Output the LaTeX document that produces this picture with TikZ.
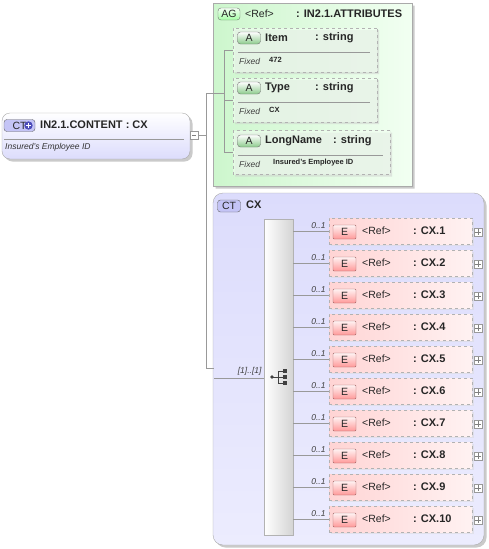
\documentclass[tikz,border=0pt]{standalone}
\usepackage{fontspec}
\setmainfont{Liberation Sans}
\usetikzlibrary{shapes.misc, shadows}

\definecolor{lav}{RGB}{220,220,252}
\definecolor{lavlight}{RGB}{236,236,254}
\definecolor{lavbadge}{RGB}{196,196,246}
\definecolor{grnbg}{RGB}{205,246,205}
\definecolor{grnlight}{RGB}{242,255,242}
\definecolor{pinkbg}{RGB}{255,212,212}
\definecolor{pinklight}{RGB}{255,242,242}
\definecolor{boxline}{RGB}{170,170,170}

\begin{document}
\begin{tikzpicture}[x=1pt, y=-1pt,
  conn/.style={draw=black!40, line width=.6pt},
  shade box/.style={drop shadow={shadow xshift=2.5pt, shadow yshift=-2.5pt, fill=black!35, opacity=.6}},
  ct main/.style={draw=boxline, rounded corners=8pt, top color=white, bottom color=lav, shade box, minimum width=188pt, minimum height=46pt},
  ct group/.style={draw=boxline, rounded corners=10pt, top color=lav, bottom color=lavlight, shade box, minimum width=271pt, minimum height=352pt},
  ag group/.style={chamfered rectangle, chamfered rectangle corners={north west,south west}, chamfered rectangle xsep=10pt, chamfered rectangle ysep=10pt, draw=boxline, left color=grnbg, right color=grnlight, shade box, minimum width=199pt, minimum height=183pt, inner sep=0pt},
  attr node/.style={chamfered rectangle, chamfered rectangle corners={north west,south west}, chamfered rectangle xsep=7pt, chamfered rectangle ysep=7pt, draw=black!30, dashed, fill=grnlight, fill opacity=.6, drop shadow={shadow xshift=2pt, shadow yshift=-2pt, fill=black!20, opacity=.5}, minimum height=44pt, inner sep=0pt},
  elem node/.style={draw=black!30, dashed, left color=pinkbg, right color=pinklight, drop shadow={shadow xshift=2pt, shadow yshift=-2pt, fill=black!15, opacity=.5}, minimum width=143pt, minimum height=26pt},
  seq bar/.style={draw=black!30, left color=white, right color=black!17, minimum width=29pt, minimum height=316pt},
  badge/.style={rounded corners=3pt, inner sep=0pt, font=\fontsize{10.5}{12}\selectfont, text=black!85},
  ct badge/.style={badge, draw=black!60, fill=lavbadge, minimum width=23pt, minimum height=12pt},
  ag badge/.style={badge, draw=black!55, top color=grnlight, bottom color=green!35!white, minimum width=22pt, minimum height=12pt},
  a badge/.style={badge, draw=black!55, top color=white, bottom color=green!55!black!45!white, minimum width=23pt, minimum height=12pt},
  e badge/.style={badge, rounded corners=1pt, draw=red!40!black!60, top color=pinklight, bottom color=red!40!white, minimum width=23pt, minimum height=14pt},
  tog box/.style={draw=black!40, fill=white, minimum size=8pt, inner sep=0pt},
  head/.style={font=\fontsize{11}{13}\selectfont\bfseries, text=black!85, inner sep=0pt},
  plain/.style={font=\fontsize{10.5}{12}\selectfont, text=black!85, inner sep=0pt},
  doc/.style={font=\fontsize{8.5}{10}\selectfont\itshape, text=black!80, inner sep=0pt},
  val/.style={font=\fontsize{7.5}{9}\selectfont\bfseries, text=black!85, inner sep=0pt},
  card/.style={font=\fontsize{8.5}{10}\selectfont\itshape, text=black!75, inner sep=0pt}]
\useasboundingbox (0,0) rectangle (489,549);

% IN2.1.CONTENT
\node[ct main] (content) at (96,136) {};
\node[ct badge, minimum width=31pt, minimum height=12pt] (ctb) at (19.5,125.5) {CT\hspace{11pt}};
\fill[blue!60!black!70] (28.5,125.5) circle (4.2pt);
\draw[white, line width=1.3pt] (25.8,125.5) -- (31.2,125.5) (28.5,122.8) -- (28.5,128.2);
\node[head, anchor=west] (ctname) at (40,125) {IN2.1.CONTENT : CX};
\draw[black!40] (4,139) -- (184,139);
\node[doc, anchor=west] (ctdoc) at (5,147) {Insured's Employee ID};
\node[tog box] (cbox) at (194,135) {};
\draw[black!50] ([xshift=2pt]cbox.west) -- ([xshift=-2pt]cbox.east);

% attributes
\node[ag group] (ag) at (312.5,94.5) {};
\node[ag badge] (agb) at (229,14) {AG};
\node[plain, anchor=west] at (245,14) {<Ref>};
\node[head, anchor=west] at (296,14) {: IN2.1.ATTRIBUTES};

\node[attr node, minimum width=144pt] (item) at (305,50) {};
\node[a badge] at (249,38) {A};
\node[head, anchor=west] at (265,38) {Item};
\node[head, anchor=west] at (315,38) {: string};
\draw[black!40] (238,52) -- (370,52);
\node[card, anchor=west] at (239,61) {Fixed};
\node[val, anchor=west] at (269,60) {472};

\node[attr node, minimum width=144pt] (type) at (305,100) {};
\node[a badge] at (249,88) {A};
\node[head, anchor=west] at (265,88) {Type};
\node[head, anchor=west] at (315,88) {: string};
\draw[black!40] (238,102) -- (370,102);
\node[card, anchor=west] at (239,111) {Fixed};
\node[val, anchor=west] at (269,110) {CX};

\node[attr node, minimum width=157pt] (long) at (311.5,152.5) {};
\node[a badge] at (249,141) {A};
\node[head, anchor=west] at (265,141) {LongName};
\node[head, anchor=west] at (333,141) {: string};
\draw[black!40] (238,155) -- (383,155);
\node[card, anchor=west] at (239,164) {Fixed};
\node[val, anchor=west] at (273,163) {Insured's Employee ID};

% CX
\node[ct group] (cx) at (348.5,369) {};
\node[ct badge] (cxb) at (229,206) {CT};
\node[head, anchor=west] at (246,205) {CX};
\node[seq bar] (seq) at (278.5,377) {};
\fill[black!75] (272,377) circle (1.8pt);
\draw[black!75, line width=.8pt] (272,377) -- (278,377) (278,371) -- (278,383);
\foreach \k in {371,377,383} {
  \draw[black!75, line width=.8pt] (278,\k) -- (283,\k);
  \fill[black!75] (283,\k-1.8) rectangle (286.6,\k+1.8);
}

\foreach \i in {1,...,10} {
  \pgfmathsetmacro{\ey}{231+32*(\i-1)}
  \node[elem node] (e\i) at (400.5,\ey) {};
  \node[e badge] at (344.5,\ey+1) {E};
  \node[plain, anchor=west] at (362,\ey) {<Ref>};
  \node[head, anchor=west] at (413,\ey) {: CX.\i};
  \node[tog box] (p\i) at (478,\ey+1) {};
  \draw[black!50] ([xshift=1.5pt]p\i.west) -- ([xshift=-1.5pt]p\i.east) ([yshift=-1.5pt]p\i.north) -- ([yshift=1.5pt]p\i.south);
  \draw[conn] (seq.east |- e\i.west) -- (e\i.west) node[card, pos=1, anchor=south east, xshift=-3pt, yshift=2pt] {0..1};
}

\coordinate (jn) at (206,135);
\coordinate (agjoin) at (224,93);
\coordinate (cxjoin) at (214,368);
\coordinate (cxin) at (214,378);
\draw[conn] (cbox.east) -- (jn);
\draw[conn] (jn) |- (agjoin);
\draw[conn] (jn) |- (cxjoin);
\draw[conn] (item.west) -| (agjoin);
\draw[conn] (type.west) -| (agjoin);
\draw[conn] (long.west) -| (agjoin);
\draw[conn] (cxin) -- (cxin -| seq.west) node[card, pos=1, anchor=south east, xshift=-2pt, yshift=2pt] {[1]..[1]};
\end{tikzpicture}
\end{document}
